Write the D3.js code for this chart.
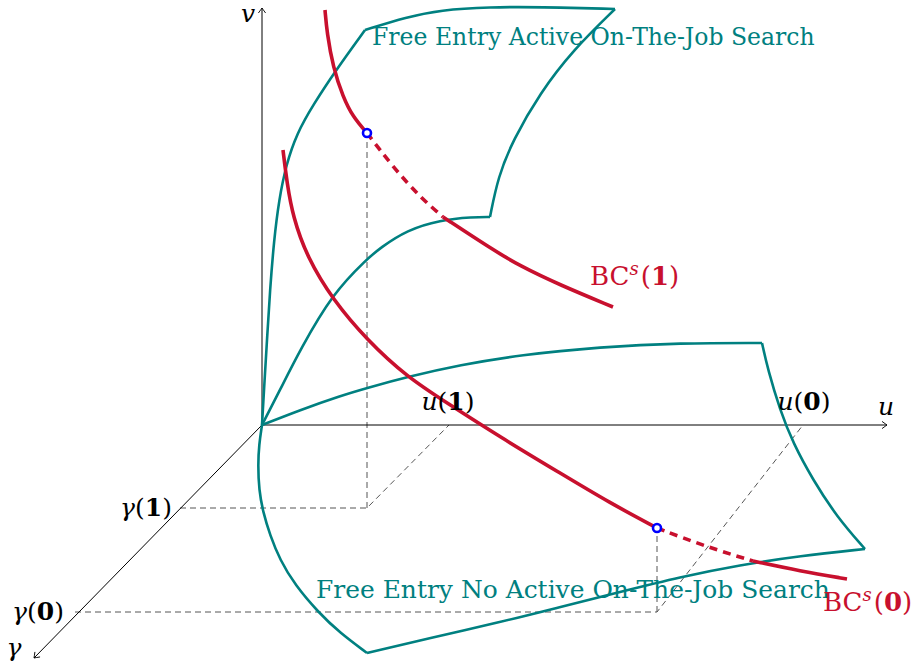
<!DOCTYPE html>
<html><head><meta charset="utf-8">
<script src="https://cdn.jsdelivr.net/npm/d3@7"></script>
<style>body{margin:0;background:#fff} svg{display:block}</style>
</head><body><svg id="c" width="917" height="666"></svg>
<script>
// ---------- data (units in the drawing plane; origin = axes origin) ----------
const axisU = [[0,0],[12.5,0]];
const axisV = [[0,0],[0,8.34]];
const axisG = [[0,0],[-4.56,-4.66]];

// surface: Free Entry Active On-The-Job Search (four edges)
const activeLeft   = [[0,0],[0.04,0.7],[0.1,1.7],[0.16,2.7],[0.24,3.7],[0.34,4.5],[0.48,5.2],[0.7,5.84],[1.02,6.4],[1.48,7.1],[2.06,7.9]];
const activeTop    = [[2.06,7.9],[2.9,8.16],[3.56,8.3],[4.56,8.36],[5.56,8.36],[7.06,8.32]];
const activeRight  = [[7.06,8.32],[6.22,7.5],[5.56,6.64],[5.02,5.7],[4.72,4.96],[4.56,4.16]];
const activeBottom = [[4.56,4.16],[4.22,4.16],[3.56,4.1],[2.9,3.9],[2.36,3.54],[2.1,3.32],[1.42,2.64],[0.76,1.5],[0.36,0.7],[0,0]];

// surface: Free Entry No Active On-The-Job Search
const noActiveTop    = [[0,0],[0.76,0.3],[1.56,0.58],[2.1,0.74],[2.9,0.96],[3.96,1.2],[5.16,1.4],[6.76,1.56],[8.36,1.64],[10,1.64]];
const noActiveRight  = [[10,1.64],[10.12,1.1],[10.36,0.3],[10.62,-0.36],[11.02,-1.1],[11.5,-1.84],[12.06,-2.48]];
const noActiveBottom = [[12.06,-2.48],[10.76,-2.62],[9.56,-2.8],[8.36,-3.04],[7.16,-3.34],[5.96,-3.64],[4.7,-3.96],[3.36,-4.26],[2.1,-4.56]];
const noActiveLeft   = [[2.1,-4.56],[1.56,-4.16],[1.12,-3.74],[0.66,-3.2],[0.36,-2.7],[0.16,-2.2],[0.02,-1.74],[-0.06,-1.3],[-0.08,-0.8],[-0.06,-0.4],[0,0]];

// BC^s(1) curve segments
const bc1Solid1 = [[1.26,8.3],[1.3,7.84],[1.42,7.16],[1.62,6.56],[1.82,6.16],[2.1,5.84]];
const bc1Dashed = [[2.1,5.84],[2.62,5.16],[3.16,4.56],[3.62,4.16]];
const bc1Solid2 = [[3.62,4.16],[4.56,3.54],[5.16,3.18],[5.96,2.8],[7.02,2.36]];
// BC^s(0) curve segments
const bc0Solid1 = [[0.42,5.5],[0.5,4.84],[0.62,4.16],[0.9,3.36],[1.42,2.5],[2.1,1.7],[2.9,0.96],[3.7,0.44],[4.76,-0.24],[5.96,-0.96],[6.96,-1.56],[7.9,-2.06]];
const bc0Dashed = [[7.9,-2.06],[8.9,-2.44],[9.82,-2.72]];
const bc0Solid2 = [[9.82,-2.72],[10.76,-2.92],[11.7,-3.08]];

// equilibrium points
const eqPoints = [[2.1,5.84],[7.9,-2.06]];

// dashed guide lines
const guides = [
  [[-1.64,-1.66],[2.1,-1.66],[3.74,0]],
  [[2.1,-1.66],[2.1,5.84]],
  [[-3.74,-3.74],[7.9,-3.74],[10.82,0]],
  [[7.9,-3.74],[7.9,-2.06]]
];

// labels
const surfaceLabels = [
  {text:"Free Entry Active On-The-Job Search", at:[2.2,7.6], width:443},
  {text:"Free Entry No Active On-The-Job Search", at:[1.08,-3.46], width:514}
];
const mathLabels = [
  {at:[-0.14,8.06], anchor:"end",    parts:[["v","i"]]},
  {at:[12.48,0.2],  anchor:"middle", parts:[["u","i"]]},
  {at:[-4.96,-4.62],anchor:"middle", parts:[["γ","i"]]},
  {at:[-1.8,-1.82], anchor:"end",    parts:[["γ","i"],["(","n"],["1","b"],[")","n"]]},
  {at:[-3.96,-3.9], anchor:"end",    parts:[["γ","i"],["(","n"],["0","b"],[")","n"]]},
  {at:[3.72,0.3],   anchor:"middle", parts:[["u","i"],["(","n"],["1","b"],[")","n"]]},
  {at:[10.84,0.3],  anchor:"middle", parts:[["u","i"],["(","n"],["0","b"],[")","n"]]}
];
const bcLabels = [
  {at:[6.56,2.8],   arg:"1"},
  {at:[11.22,-3.72],arg:"0"}
];

// ---------- drawing ----------
const TEAL="#008080", RED="#c8102e", BLUE="#0000ff", FONT="'DejaVu Serif', serif";
const x = d3.scaleLinear().domain([0,12.5]).range([262,887]);
const y = d3.scaleLinear().domain([0,8.34]).range([425,8]);
const svg = d3.select("#c");

svg.append("defs").append("marker")
  .attr("id","arr").attr("viewBox","-6 -5 8 10").attr("refX",0).attr("refY",0)
  .attr("markerWidth",8).attr("markerHeight",10).attr("markerUnits","userSpaceOnUse")
  .attr("orient","auto")
  .append("path").attr("d","M-5,-3.6 Q-1.2,-0.8 0,0 Q-1.2,0.8 -5,3.6")
  .attr("fill","none").attr("stroke","#000").attr("stroke-width",0.9);

const straight = d3.line().x(d=>x(d[0])).y(d=>y(d[1]));
const smooth = d3.line().x(d=>x(d[0])).y(d=>y(d[1])).curve(d3.curveBasis);

// guides
svg.append("g").selectAll("path").data(guides).join("path")
  .attr("d",straight).attr("fill","none").attr("stroke","#555")
  .attr("stroke-width",1).attr("stroke-dasharray","6,4");

// axes
svg.append("g").selectAll("path").data([axisU,axisV,axisG]).join("path")
  .attr("d",straight).attr("fill","none").attr("stroke","#000")
  .attr("stroke-width",1).attr("marker-end","url(#arr)");

// surfaces
svg.append("g").selectAll("path")
  .data([activeLeft,activeTop,activeRight,activeBottom,noActiveTop,noActiveRight,noActiveBottom,noActiveLeft])
  .join("path").attr("d",smooth).attr("fill","none").attr("stroke",TEAL)
  .attr("stroke-width",2.6).attr("stroke-linejoin","round");

// BC curves
const bcSegs = [
  {d:bc1Solid1,dash:null},{d:bc1Dashed,dash:"8,6"},{d:bc1Solid2,dash:null},
  {d:bc0Solid1,dash:null},{d:bc0Dashed,dash:"8,6"},{d:bc0Solid2,dash:null}
];
svg.append("g").selectAll("path").data(bcSegs).join("path")
  .attr("d",s=>smooth(s.d)).attr("fill","none").attr("stroke",RED)
  .attr("stroke-width",3.6).attr("stroke-dasharray",s=>s.dash);

// equilibrium points
svg.append("g").selectAll("circle").data(eqPoints).join("circle")
  .attr("cx",d=>x(d[0])).attr("cy",d=>y(d[1])).attr("r",4)
  .attr("fill","#fff").attr("stroke",BLUE).attr("stroke-width",2.6);

// surface labels (fit to measured width)
svg.append("g").selectAll("text").data(surfaceLabels).join("text")
  .attr("x",d=>x(d.at[0])).attr("y",d=>y(d.at[1]))
  .attr("font-family",FONT).attr("font-size",20).attr("fill",TEAL)
  .text(d=>d.text)
  .each(function(d){
    const w=this.getComputedTextLength();
    d3.select(this).attr("font-size",20*d.width/w);
  });

// math labels
const mg = svg.append("g");
mathLabels.forEach(l=>{
  const t = mg.append("text").attr("x",x(l.at[0])).attr("y",y(l.at[1]))
    .attr("text-anchor",l.anchor).attr("font-family",FONT).attr("font-size",25).attr("fill","#000");
  l.parts.forEach(p=>{
    t.append("tspan").text(p[0])
      .attr("font-style",p[1]==="i"?"italic":"normal")
      .attr("font-weight",p[1]==="b"?"bold":"normal");
  });
});

// BC labels
bcLabels.forEach(l=>{
  const t = mg.append("text").attr("x",x(l.at[0])).attr("y",y(l.at[1]))
    .attr("font-family",FONT).attr("font-size",26).attr("fill",RED);
  t.append("tspan").text("BC");
  t.append("tspan").text("s").attr("font-style","italic").attr("font-size",18).attr("dy",-10);
  t.append("tspan").text("(").attr("dy",10).attr("dx",2);
  t.append("tspan").text(l.arg).attr("font-weight","bold");
  t.append("tspan").text(")");
});
</script></body></html>
